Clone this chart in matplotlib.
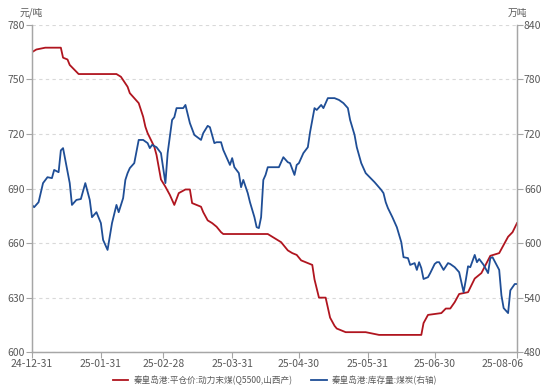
import matplotlib
matplotlib.use('Agg')
import matplotlib.pyplot as plt
import matplotlib.transforms as mtransforms
import pandas as pd

plt.rcParams['font.family'] = ['Noto Sans CJK SC', 'DejaVu Sans']

# 秦皇岛港 平仓价 (元/吨, 左轴)
price_dates = ['2024-12-31', '2025-01-02', '2025-01-06', '2025-01-13', '2025-01-14', '2025-01-16',
               '2025-01-17', '2025-01-21', '2025-02-07', '2025-02-09', '2025-02-12', '2025-02-13',
               '2025-02-17', '2025-02-19', '2025-02-20', '2025-02-21', '2025-02-24', '2025-02-25',
               '2025-02-27', '2025-03-01', '2025-03-03', '2025-03-05', '2025-03-07', '2025-03-10',
               '2025-03-12', '2025-03-13', '2025-03-17', '2025-03-18', '2025-03-20', '2025-03-22',
               '2025-03-24', '2025-03-26', '2025-03-27', '2025-04-16', '2025-04-18', '2025-04-22',
               '2025-04-25', '2025-04-27', '2025-04-29', '2025-05-01', '2025-05-06', '2025-05-07',
               '2025-05-09', '2025-05-12', '2025-05-14', '2025-05-16', '2025-05-17', '2025-05-21',
               '2025-05-30', '2025-06-03', '2025-06-05', '2025-06-24', '2025-06-25', '2025-06-27',
               '2025-07-03', '2025-07-05', '2025-07-07', '2025-07-09', '2025-07-11', '2025-07-15',
               '2025-07-18', '2025-07-21', '2025-07-25', '2025-07-29', '2025-08-02', '2025-08-04',
               '2025-08-06']
price = [765, 766.5, 767.5, 767.5, 762, 761,
         758, 753, 753, 751.5, 746, 742.5,
         737, 729.5, 724, 720.5, 713, 708.5,
         695, 691, 686.5, 681, 687.5, 689.5,
         689.5, 682, 680, 677, 672.5, 671,
         669, 666, 665, 665, 663.5, 660.5,
         656, 654.5, 653.5, 650.5, 648, 640,
         630, 630, 619, 614.5, 613, 611,
         611, 610, 609.5, 609.5, 616, 620.5,
         621.5, 624, 624, 627.5, 632, 633,
         640.5, 643.5, 653, 654.5, 663.5, 666,
         671]

# 秦皇岛港 库存量 (万吨, 右轴)
stock_dates = ['2024-12-31', '2025-01-01', '2025-01-03', '2025-01-05', '2025-01-07', '2025-01-09',
               '2025-01-10', '2025-01-12', '2025-01-13', '2025-01-14', '2025-01-15', '2025-01-17',
               '2025-01-18', '2025-01-20', '2025-01-22', '2025-01-24', '2025-01-26', '2025-01-27',
               '2025-01-29', '2025-01-31', '2025-02-01', '2025-02-03', '2025-02-05', '2025-02-07',
               '2025-02-08', '2025-02-10', '2025-02-11', '2025-02-12', '2025-02-13', '2025-02-15',
               '2025-02-17', '2025-02-19', '2025-02-21', '2025-02-22', '2025-02-23', '2025-02-25',
               '2025-02-27', '2025-03-01', '2025-03-02', '2025-03-04', '2025-03-05', '2025-03-06',
               '2025-03-09', '2025-03-10', '2025-03-12', '2025-03-14', '2025-03-17', '2025-03-18',
               '2025-03-20', '2025-03-21', '2025-03-23', '2025-03-24', '2025-03-26', '2025-03-27',
               '2025-03-29', '2025-03-30', '2025-03-31', '2025-04-01', '2025-04-03', '2025-04-04',
               '2025-04-05', '2025-04-07', '2025-04-08', '2025-04-10', '2025-04-11', '2025-04-12',
               '2025-04-13', '2025-04-14', '2025-04-15', '2025-04-16', '2025-04-18', '2025-04-21',
               '2025-04-23', '2025-04-25', '2025-04-26', '2025-04-28', '2025-04-29', '2025-04-30',
               '2025-05-02', '2025-05-04', '2025-05-05', '2025-05-07', '2025-05-08', '2025-05-10',
               '2025-05-11', '2025-05-13', '2025-05-16', '2025-05-18', '2025-05-20', '2025-05-22',
               '2025-05-23', '2025-05-25', '2025-05-26', '2025-05-28', '2025-05-30', '2025-06-03',
               '2025-06-06', '2025-06-07', '2025-06-08', '2025-06-09', '2025-06-11', '2025-06-13',
               '2025-06-15', '2025-06-16', '2025-06-18', '2025-06-19', '2025-06-21', '2025-06-22',
               '2025-06-23', '2025-06-24', '2025-06-25', '2025-06-27', '2025-06-28', '2025-06-30',
               '2025-07-01', '2025-07-02', '2025-07-04', '2025-07-06', '2025-07-07', '2025-07-09',
               '2025-07-11', '2025-07-13', '2025-07-14', '2025-07-15', '2025-07-16', '2025-07-18',
               '2025-07-19', '2025-07-20', '2025-07-22', '2025-07-24', '2025-07-25', '2025-07-26',
               '2025-07-29', '2025-07-30', '2025-07-31', '2025-08-02', '2025-08-03', '2025-08-05',
               '2025-08-06']
stock = [642, 639.5, 645, 666, 672.5, 671.5,
         680.5, 678, 702, 704.5, 691.5, 666,
         642, 647.5, 648.5, 666, 647.5, 628.5,
         634, 622, 603.5, 592.5, 622, 642,
         634, 649.5, 669.5, 677, 682.5, 688,
         713.5, 713.5, 710, 704.5, 708, 705.5,
         699, 666, 699, 735.5, 738.5, 748.5,
         748.5, 752, 732, 719, 713.5, 721,
         729, 727.5, 710, 711, 711, 702.5,
         691.5, 686, 693.5, 683.5, 677, 661.5,
         669.5, 655, 645, 628.5, 617.5, 616.5,
         628.5, 669.5, 675, 683.5, 683.5, 683.5,
         694.5, 689, 688, 675, 686, 688,
         699, 705.5, 722, 748.5, 746.5, 752,
         748.5, 759.5, 759.5, 757.5, 754, 748.5,
         735.5, 719, 705.5, 688, 677, 667,
         658.5, 655, 645, 638.5, 628.5, 617.5,
         601, 584.5, 583.5, 576, 578, 570.5,
         579, 572.5, 560.5, 562.5, 567, 577,
         579, 579, 570.5, 578, 577, 573.5,
         568, 546, 559.5, 574.5, 573.5, 587,
         579, 582.5, 576, 567, 583.5, 584.5,
         570.5, 542.5, 528.5, 523, 548, 555,
         555]

tick_dates = ['2024-12-31', '2025-01-31', '2025-02-28', '2025-03-31',
              '2025-04-30', '2025-05-31', '2025-06-30', '2025-08-06']
tick_labels = ['24-12-31', '25-01-31', '25-02-28', '25-03-31',
               '25-04-30', '25-05-31', '25-06-30', '25-08-06']

red = '#B0151F'
blue = '#1F4E96'
grey = '#A6A6A6'
txt = '#595959'

fig = plt.figure(figsize=(5.5, 3.9), dpi=100)
ax = fig.add_axes([0.058, 0.097, 0.882, 0.839])
ax2 = ax.twinx()

l1, = ax.plot(pd.to_datetime(price_dates), price, color=red, lw=1.3,
              label='秦皇岛港:平仓价:动力末煤(Q5500,山西产)')
l2, = ax2.plot(pd.to_datetime(stock_dates), stock, color=blue, lw=1.3,
               label='秦皇岛港:库存量:煤炭(右轴)')

ax.set_xlim(pd.Timestamp('2024-12-31'), pd.Timestamp('2025-08-06'))
ax.set_ylim(600, 780)
ax.set_yticks(range(600, 781, 30))
ax2.set_ylim(480, 840)
ax2.set_yticks(range(480, 841, 60))
ax.set_xticks(pd.to_datetime(tick_dates))
ax.set_xticklabels(tick_labels)

ax.grid(axis='y', color='#D9D9D9', ls=(0, (3, 3)), lw=0.8)
ax.set_axisbelow(True)

for a in (ax, ax2):
    a.spines['top'].set_visible(False)
    for s in ('left', 'right', 'bottom'):
        a.spines[s].set_color(grey)
        a.spines[s].set_linewidth(0.9)
    a.tick_params(colors=grey, labelcolor=txt, labelsize=7.5, length=4, width=0.8, pad=1)

# last date label sits a little left of the axis end
last = ax.get_xticklabels()[-1]
last.set_transform(last.get_transform() + mtransforms.ScaledTranslation(-14 / 100, 0, fig.dpi_scale_trans))

fig.text(0.035, 0.968, '元/吨', fontsize=7, color=txt, ha='left', va='center')
fig.text(0.94, 0.966, '万吨', fontsize=7, color=txt, ha='center', va='center')

fig.legend(handles=[l1, l2], loc='center', bbox_to_anchor=(0.5, 0.024), ncol=2,
           frameon=False, fontsize=6.2, handlelength=1.8, handletextpad=0.6,
           columnspacing=2.2, labelcolor=txt)

fig.savefig('out.png', dpi=100)
